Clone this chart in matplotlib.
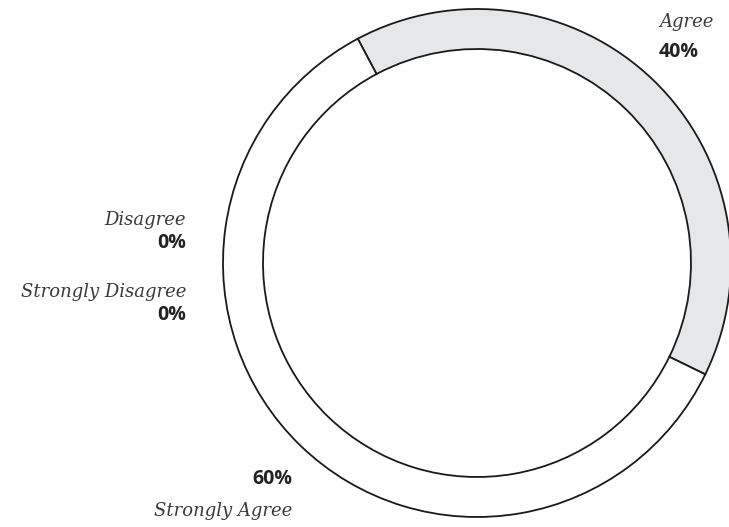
import matplotlib
matplotlib.use("Agg")
import matplotlib.pyplot as plt

categories = ["Agree", "Strongly Agree", "Disagree", "Strongly Disagree"]
values = [40, 60, 0, 0]
colors = ["#e6e7e8", "#ffffff", "#ffffff", "#ffffff"]
pct_labels = ["40%", "60%", "0%", "0%"]

W, H = 729, 527
fig = plt.figure(figsize=(W / 100, H / 100), dpi=100)
ax = fig.add_axes([0, 0, 1, 1])

# draw only non-zero slices
vals = [v for v in values if v > 0]
cols = [c for v, c in zip(values, colors) if v > 0]
ax.pie(vals, colors=cols, startangle=118, counterclock=False,
       center=(477, H - 263), radius=254, frame=True,
       wedgeprops=dict(width=40, edgecolor="#1a1a1a", linewidth=1.3))
ax.set_xlim(0, W)
ax.set_ylim(0, H)
ax.set_aspect("equal")
ax.axis("off")

name_kw = dict(family="DejaVu Serif", style="italic", fontsize=13,
               color="#3a3a3a", va="center")
pct_kw = dict(family="Open Sans", weight="bold", fontsize=14,
              color="#222222", va="center")

def Y(yp):
    return H - yp

# Agree
ax.text(659, Y(22), categories[0], ha="left", **name_kw)
ax.text(659, Y(52), pct_labels[0], ha="left", **pct_kw)
# Disagree
ax.text(186, Y(220), categories[2], ha="right", **name_kw)
ax.text(186, Y(243), pct_labels[2], ha="right", **pct_kw)
# Strongly Disagree
ax.text(186, Y(292), categories[3], ha="right", **name_kw)
ax.text(186, Y(315), pct_labels[3], ha="right", **pct_kw)
# Strongly Agree
ax.text(292, Y(479), pct_labels[1], ha="right", **pct_kw)
ax.text(292, Y(511), categories[1], ha="right", **name_kw)

fig.savefig("out.png", dpi=100)
